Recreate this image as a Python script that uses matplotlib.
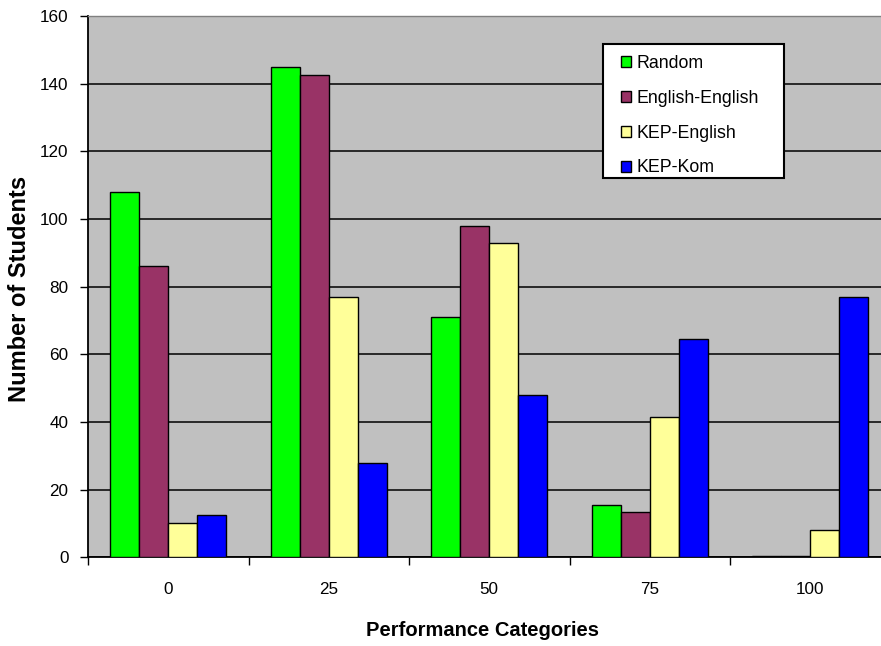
import numpy as np
import matplotlib
matplotlib.use("Agg")
import matplotlib.pyplot as plt
from matplotlib.patches import Patch, Rectangle

plt.rcParams['font.family'] = ['Liberation Sans', 'DejaVu Sans']

# Data
categories = ["0", "25", "50", "75", "100"]
series_names = ["Random", "English-English", "KEP-English", "KEP-Kom"]
random_vals = [108, 145, 71, 15.5, 0.5]
eng_eng_vals = [86, 142.5, 98, 13.5, 0.5]
kep_eng_vals = [10, 77, 93, 41.5, 8]
kep_kom_vals = [12.5, 28, 48, 64.5, 77]
colors = ["#00FF00", "#993366", "#FFFF99", "#0000FF"]

W, H = 881, 646
fig = plt.figure(figsize=(W / 100, H / 100), dpi=100)
fig.patch.set_facecolor("white")

left_px, right_px, top_px, bottom_px = 88, 890.5, 16, 557.3
ax = fig.add_axes([left_px / W, (H - bottom_px) / H,
                   (right_px - left_px) / W, (bottom_px - top_px) / H])
ax.set_facecolor("#C0C0C0")

x = np.arange(len(categories))
bw = 0.18
all_vals = [random_vals, eng_eng_vals, kep_eng_vals, kep_kom_vals]
for i, (vals, c, name) in enumerate(zip(all_vals, colors, series_names)):
    ax.bar(x + (i - 1.5) * bw, vals, width=bw, color=c, edgecolor="black",
           linewidth=1.0, label=name, zorder=3)

ax.set_xlim(-0.5, len(categories) - 0.5)
ax.set_ylim(0, 160)
ax.set_yticks(np.arange(0, 161, 20))
ax.yaxis.grid(True, color="black", linewidth=1.1, zorder=1)
ax.set_axisbelow(True)

# category boundaries carry the tick marks, labels sit at the centres
ax.set_xticks(np.arange(-0.5, len(categories), 1.0))
ax.set_xticklabels([])
ax.set_xticks(x, minor=True)
ax.set_xticklabels(categories, minor=True)
ax.tick_params(axis="x", which="major", direction="out", length=6, width=1.0, color="black")
ax.tick_params(axis="x", which="minor", length=0, pad=18, labelsize=12.3)
ax.tick_params(axis="y", direction="out", length=6, width=1.0, pad=8, labelsize=12.3)

for s in ["left", "bottom"]:
    ax.spines[s].set_color("black")
    ax.spines[s].set_linewidth(1.3)
ax.spines["top"].set_color("#808080")
ax.spines["top"].set_linewidth(1.0)
ax.spines["right"].set_visible(False)

fig.text(483 / W, (H - 630) / H, "Performance Categories", ha="center", va="center",
         fontsize=14.5, fontweight="bold")
fig.text(20 / W, (H - 289) / H, "Number of Students", ha="center", va="center",
         rotation=90, fontsize=17, fontweight="bold")

# legend box drawn as a plain white rectangle, entries placed inside it
frame = Rectangle((603 / W, (H - 178) / H), (784 - 603) / W, (178 - 44) / H,
                  transform=fig.transFigure, facecolor="white", edgecolor="black",
                  linewidth=1.5, zorder=4)
fig.patches.append(frame)

handles = [Patch(facecolor=c, edgecolor="black", linewidth=1.0) for c in colors]
leg = fig.legend(handles, series_names, loc="upper left",
                 bbox_to_anchor=(621 / W, (H - 55) / H), bbox_transform=fig.transFigure,
                 fontsize=12.8, frameon=False, handlelength=0.58, handleheight=0.58,
                 handletextpad=0.3, labelspacing=1.0, borderpad=0,
                 borderaxespad=0)
leg.set_zorder(5)

fig.savefig("out.png", dpi=100)
